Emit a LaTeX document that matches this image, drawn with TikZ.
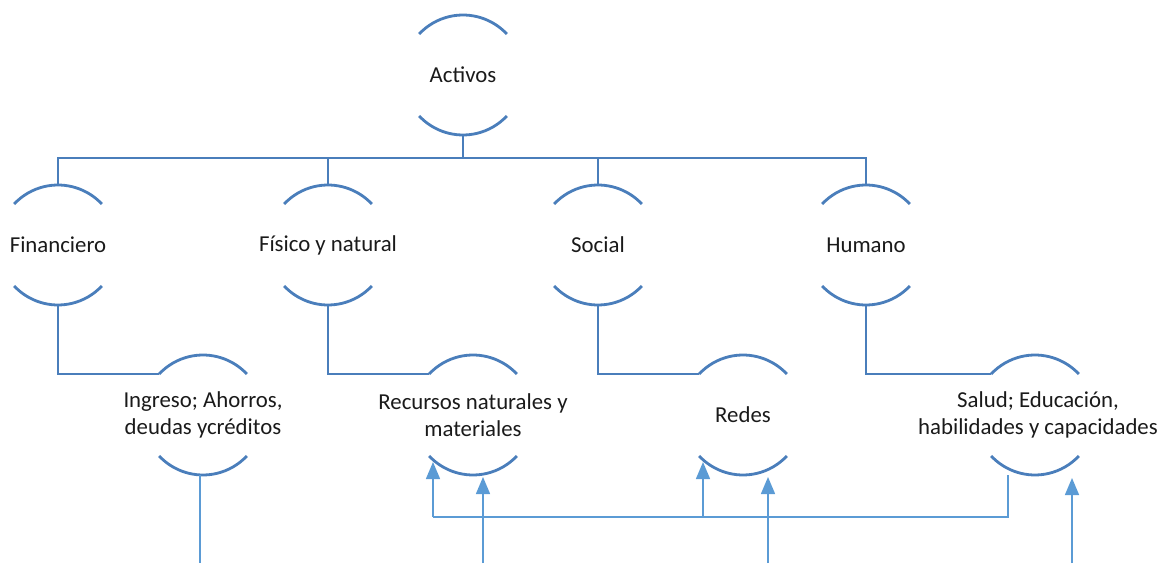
\documentclass[tikz,border=0pt]{standalone}
\usepackage{fontspec}
\setmainfont{Carlito}
\usetikzlibrary{arrows.meta}
\definecolor{mainblue}{HTML}{4A7EBB}
\definecolor{thinblue}{HTML}{5B9BD5}
\definecolor{txt}{HTML}{1A1A1A}
\begin{document}
\begin{tikzpicture}[x=1pt,y=1pt,
 ring/.style={circle,minimum size=120pt,inner sep=0pt,outer sep=0pt,draw=none},
 lbl/.style={font=\fontsize{22.8}{27}\selectfont,text=txt,align=center,inner sep=0pt},
 mainline/.style={draw=mainblue,line width=2.8pt},
 thinline/.style={draw=thinblue,line width=1.5pt},
 tip/.style={thinline,-{Triangle[width=14pt,length=17pt]}},
]
\useasboundingbox (0,0) rectangle (1159,563);
% rings
\node[ring] (act) at (463,488) {};
\node[ring] (fin) at (58,318) {};
\node[ring] (fis) at (328,318) {};
\node[ring] (soc) at (598,318) {};
\node[ring] (hum) at (866,318) {};
\node[ring] (ing) at (203,148) {};
\node[ring] (rec) at (473,148) {};
\node[ring] (red) at (743,148) {};
\node[ring] (sal) at (1035,148) {};
% arcs
\foreach \n in {act,fin,fis,soc,hum,ing,rec,red,sal}{
  \draw[mainline] (\n.43) arc[start angle=43,end angle=137,radius=60pt];
  \draw[mainline] (\n.223) arc[start angle=223,end angle=317,radius=60pt];
}
% labels
\node[lbl] (actT) at (463,488) {Activos};
\node[lbl] (finT) at (58,318) {Financiero};
\node[lbl] (fisT) at (328,318) {Físico y natural};
\node[lbl] (socT) at (598,318) {Social};
\node[lbl] (humT) at (866,318) {Humano};
\node[lbl] (ingT) at (203,148) {Ingreso; Ahorros,\\deudas ycréditos};
\node[lbl] (recT) at (473,148) {Recursos naturales y\\materiales};
\node[lbl] (redT) at (743,148) {Redes};
\node[lbl] (salT) at (1038,148) {Salud; Educación,\\habilidades y capacidades};
% bus
\coordinate (bus) at (463,405);
\draw[mainline] (act.south) -- (bus);
\draw[mainline] (fin.north) |- (bus) -| (hum.north);
\draw[mainline] (fis.north) -- (fis.north |- bus);
\draw[mainline] (soc.north) -- (soc.north |- bus);
% elbows
\draw[mainline] (fin.south) |- (ing.137);
\draw[mainline] (fis.south) |- (rec.137);
\draw[mainline] (soc.south) |- (red.137);
\draw[mainline] (hum.south) |- (sal.137);
% thin lines
\coordinate (i1) at (200,88);
\coordinate (i0) at (200,0);
\draw[thinline] (i1) -- (i0);
\coordinate (s1) at (1008,88);
\coordinate (j1) at (433,46);
\coordinate (t1) at (433,101);
\coordinate (j3) at (703,46);
\coordinate (t3) at (703,101);
\draw[thinline] (s1) |- (j1);
\draw[tip] (j1) -- (t1);
\draw[tip] (j3) -- (t3);
\coordinate (b2) at (483,0);
\coordinate (t2) at (483,86);
\coordinate (b4) at (768,0);
\coordinate (t4) at (768,86);
\coordinate (b5) at (1072,0);
\coordinate (t5) at (1072,85);
\draw[tip] (b2) -- (t2);
\draw[tip] (b4) -- (t4);
\draw[tip] (b5) -- (t5);
\end{tikzpicture}
\end{document}
